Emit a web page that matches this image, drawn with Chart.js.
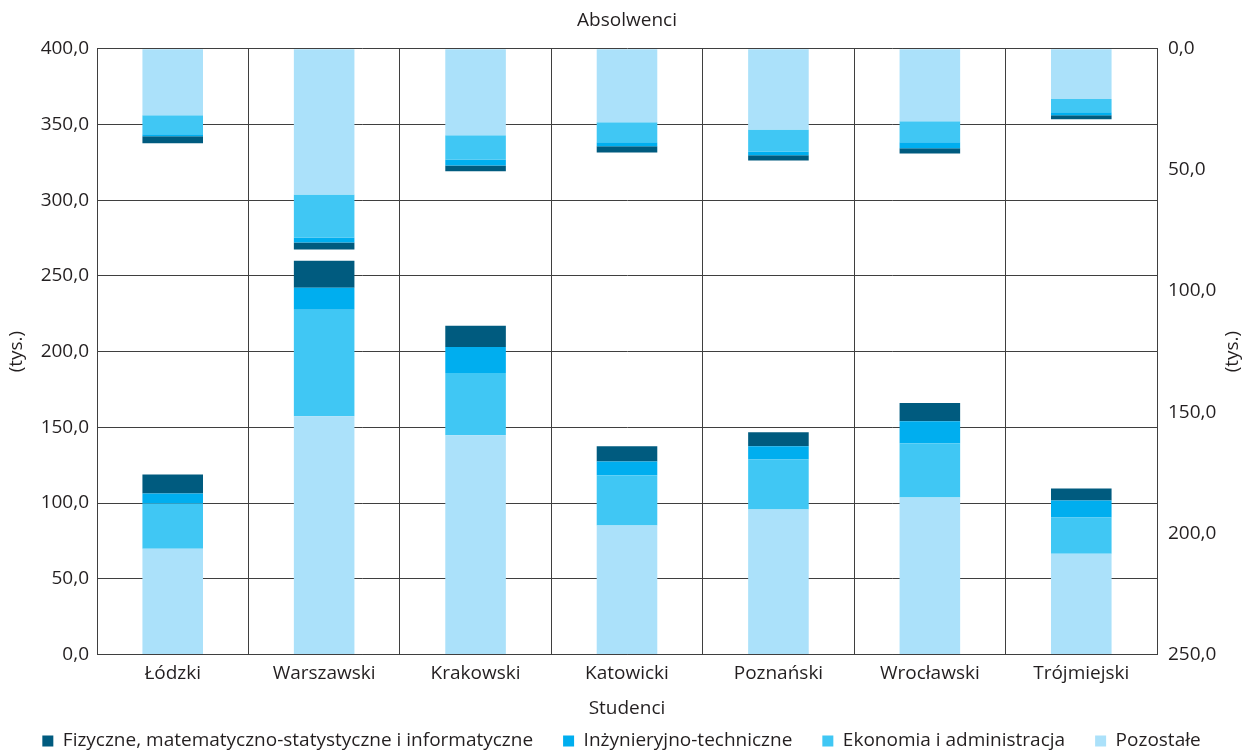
<!DOCTYPE html>
<html lang="pl">
<head>
<meta charset="utf-8">
<title>Studenci i absolwenci według podregionów</title>
<script src="https://cdn.jsdelivr.net/npm/chart.js@4/dist/chart.umd.min.js"></script>
<style>
  html, body { margin: 0; padding: 0; background: #fff; overflow: hidden; }
  #wrap { width: 1243px; height: 751px; position: relative; }
</style>
</head>
<body>
<div id="wrap"><canvas id="chart"></canvas></div>
<script>
// Podregiony
const regions = ['Łódzki', 'Warszawski', 'Krakowski', 'Katowicki', 'Poznański', 'Wrocławski', 'Trójmiejski'];

// Grupy kierunków, w kolejności od podstawy słupka
const fieldNames = [
  'Pozostałe',
  'Ekonomia i administracja',
  'Inżynieryjno-techniczne',
  'Fizyczne, matematyczno-statystyczne i informatyczne'
];
const fieldColors = ['#ABE1FA', '#40C7F4', '#00AEEF', '#005B7F'];

// Studenci (tys.) – oś lewa
const studPozostale     = [69.9, 157.3, 144.8, 85.1, 95.7, 103.7, 66.6];
const studEkonomia      = [29.8, 70.3, 41.0, 33.2, 33.1, 35.8, 23.8];
const studInzynieryjne  = [6.6, 14.5, 17.3, 9.2, 8.7, 14.5, 11.3];
const studFizyczne      = [12.6, 17.9, 13.9, 10.0, 9.2, 12.0, 7.9];

// Absolwenci (tys.) – oś prawa, odwrócona
const absPozostale      = [27.5, 60.2, 35.7, 30.4, 33.3, 29.9, 20.8];
const absEkonomia       = [7.8, 17.7, 10.0, 8.2, 9.1, 8.7, 5.4];
const absInzynieryjne   = [0.8, 2.1, 2.5, 1.7, 1.6, 2.5, 1.3];
const absFizyczne       = [2.9, 2.9, 2.4, 2.5, 2.1, 2.1, 1.6];

// Podziałki osi
const leftTicks  = [0, 50, 100, 150, 200, 250, 300, 350, 400];
const rightTicks = [0, 50, 100, 150, 200, 250];

const studSeries = [studPozostale, studEkonomia, studInzynieryjne, studFizyczne];
const absSeries  = [absPozostale, absEkonomia, absInzynieryjne, absFizyczne];

const FONT = 'Open Sans';
const TEXT = '#231F20';
const GRID = '#3f3f3f';
const fmt = v => Number(v).toFixed(1).replace('.', ',');

const datasets = [];
studSeries.forEach((vals, i) => datasets.push({
  label: fieldNames[i], data: vals, yAxisID: 'y',
  backgroundColor: fieldColors[i], borderWidth: 0,
  categoryPercentage: 1.0, barPercentage: 0.4
}));
absSeries.forEach((vals, i) => datasets.push({
  label: fieldNames[i], data: vals, yAxisID: 'y2',
  backgroundColor: fieldColors[i], borderWidth: 0,
  categoryPercentage: 1.0, barPercentage: 0.4
}));

// Podpis „(tys.)” przy prawej osi, czytany od dołu do góry
const rightUnitLabel = {
  id: 'rightUnitLabel',
  afterDraw(chart) {
    const s = chart.scales.y2;
    const area = chart.chartArea;
    const ctx = chart.ctx;
    ctx.save();
    ctx.translate(s.right - 10, (area.top + area.bottom) / 2);
    ctx.rotate(-Math.PI / 2);
    ctx.font = `19px "${FONT}"`;
    ctx.fillStyle = TEXT;
    ctx.textAlign = 'center';
    ctx.textBaseline = 'middle';
    ctx.fillText('(tys.)', 0, 0);
    ctx.restore();
  }
};

new Chart(document.getElementById('chart'), {
  type: 'bar',
  data: { labels: regions, datasets },
  plugins: [rightUnitLabel],
  options: {
    responsive: true,
    maintainAspectRatio: false,
    animation: false,
    layout: { padding: { top: 0, left: 0, right: 0, bottom: -9.5 } },
    font: { family: FONT, size: 19 },
    color: TEXT,
    plugins: {
      tooltip: { enabled: false },
      legend: {
        position: 'bottom',
        reverse: true,
        labels: {
          filter: item => item.datasetIndex < 4,
          boxWidth: 11,
          boxHeight: 11,
          padding: 30,
          color: TEXT,
          font: { family: FONT, size: 19 }
        }
      }
    },
    scales: {
      x: {
        stacked: true,
        grid: { color: GRID, lineWidth: 1, drawTicks: false, offset: true },
        border: { color: GRID },
        ticks: { color: TEXT, padding: 8, font: { family: FONT, size: 19 } },
        title: { display: true, text: 'Studenci', color: TEXT,
                 font: { family: FONT, size: 19 }, padding: { top: 0, bottom: -18 } },
        afterFit(scale) { scale.height = 47; }
      },
      x2: {
        position: 'top',
        type: 'category',
        grid: { display: false, drawTicks: false },
        border: { display: false },
        ticks: { display: false },
        title: { display: true, text: 'Absolwenci', color: TEXT,
                 font: { family: FONT, size: 19 }, padding: { top: 9.5, bottom: 0 } },
        afterFit(scale) { scale.height = 48.7; }
      },
      y: {
        position: 'left',
        stacked: true,
        min: 0, max: 400,
        afterBuildTicks(scale) { scale.ticks = leftTicks.map(v => ({ value: v })); },
        grid: { color: GRID, lineWidth: 1, drawTicks: false },
        border: { color: GRID },
        ticks: { color: TEXT, padding: 8, font: { family: FONT, size: 19 }, callback: fmt },
        title: { display: true, text: '(tys.)', color: TEXT,
                 font: { family: FONT, size: 19 }, padding: { top: 5, bottom: 0 } },
        afterFit(scale) { scale.width = 97; }
      },
      y2: {
        position: 'right',
        stacked: true,
        reverse: true,
        min: 0, max: 250,
        afterBuildTicks(scale) { scale.ticks = rightTicks.map(v => ({ value: v })); },
        grid: { drawOnChartArea: false, drawTicks: false },
        border: { color: GRID },
        ticks: { color: TEXT, padding: 11, font: { family: FONT, size: 19 }, callback: fmt },
        title: { display: false },
        afterFit(scale) { scale.width = 86; }
      }
    }
  }
});
</script>
</body>
</html>
